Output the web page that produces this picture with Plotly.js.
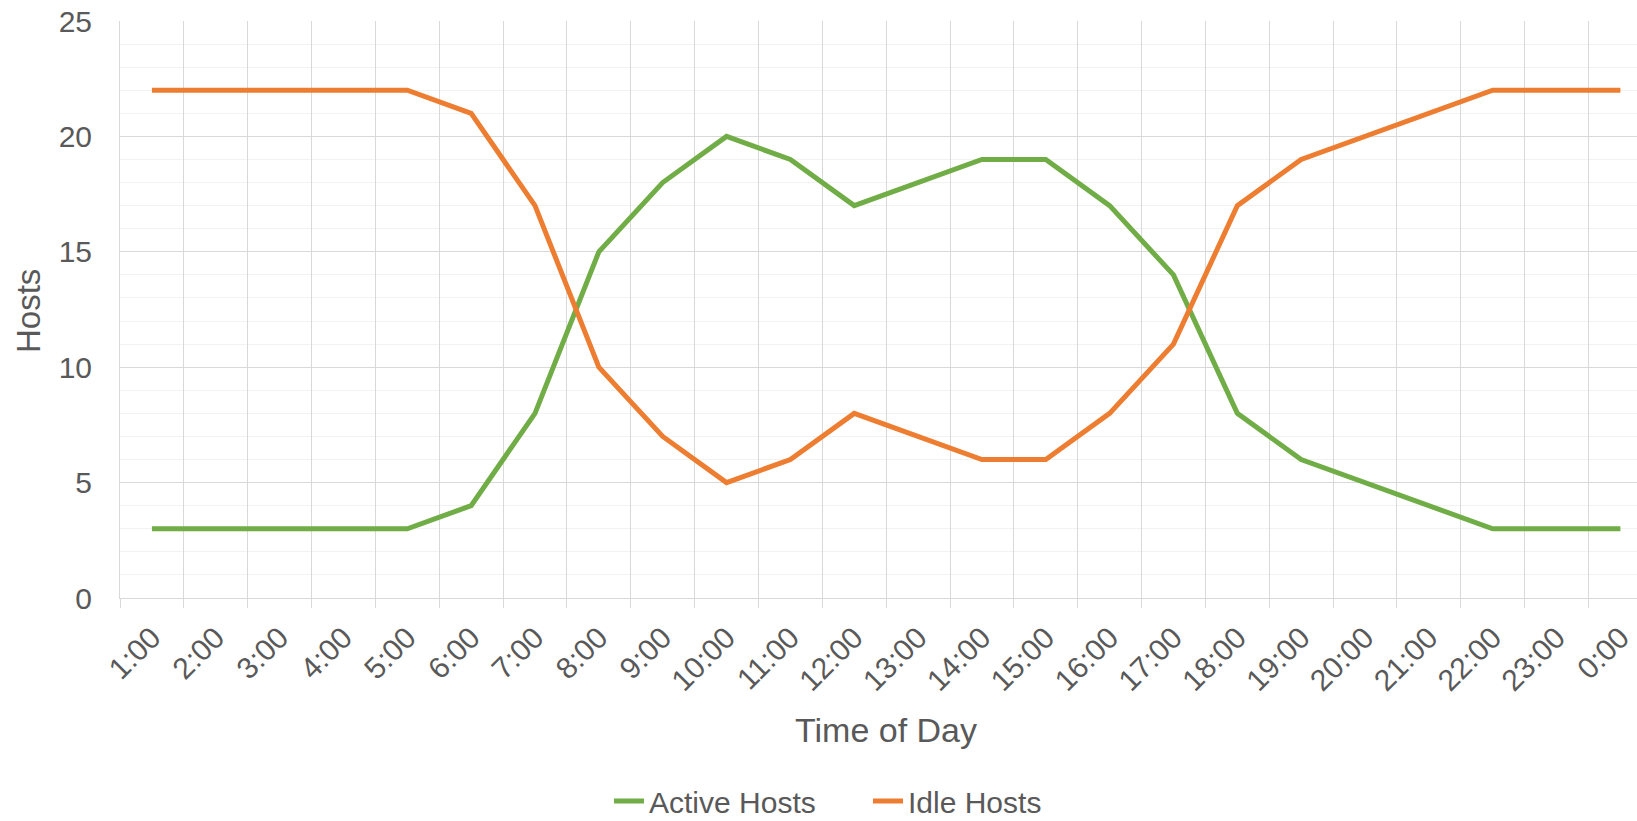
<!DOCTYPE html>
<html>
<head>
<meta charset="utf-8">
<script src="https://cdn.plot.ly/plotly-3.0.1.min.js"></script>
<style>html,body{margin:0;padding:0;background:#fff;}#chart{width:1637px;height:821px;}</style>
</head>
<body>
<div id="chart"></div>
<script>
const hours = ["1:00","2:00","3:00","4:00","5:00","6:00","7:00","8:00","9:00","10:00","11:00","12:00","13:00","14:00","15:00","16:00","17:00","18:00","19:00","20:00","21:00","22:00","23:00","0:00"];
const activeHosts = [3,3,3,3,3,4,8,15,18,20,19,17,18,19,19,17,14,8,6,5,4,3,3,3];
const idleHosts = [22,22,22,22,22,21,17,10,7,5,6,8,7,6,6,8,11,17,19,20,21,22,22,22];
const seriesNames = ["Active Hosts","Idle Hosts"];
const xTitle = "Time of Day";
const yTitle = "Hosts";

const FONT = "Liberation Sans, Arial, sans-serif";
const TXT = "#595959";

const traces = [
  {x: hours, y: activeHosts, name: seriesNames[0], type: "scatter", mode: "lines",
   line: {color: "#70AD47", width: 5}},
  {x: hours, y: idleHosts, name: seriesNames[1], type: "scatter", mode: "lines",
   line: {color: "#ED7D31", width: 5}}
];

const layout = {
  width: 1637, height: 821,
  margin: {l: 120, r: 0, t: 21, b: 223, autoexpand: false},
  paper_bgcolor: "#fff", plot_bgcolor: "#fff",
  font: {family: FONT, color: TXT, size: 30},
  showlegend: true,
  legend: {orientation: "h", xref: "container", yref: "container",
           x: 609 / 1637, xanchor: "left", y: (821 - 801) / 821, yanchor: "middle",
           entrywidth: 214, entrywidthmode: "pixels",
           font: {family: FONT, color: TXT, size: 30}, traceorder: "normal"},
  xaxis: {
    type: "category",
    range: [-0.5, 23.26],
    tickson: "boundaries",
    showgrid: true, gridcolor: "#d9d9d9", gridwidth: 1,
    ticks: "outside", ticklen: 9, tickcolor: "#d9d9d9", tickwidth: 1,
    tickangle: -45, ticklabelstandoff: 9,
    tickfont: {family: FONT, color: TXT, size: 30},
    showline: true, linecolor: "#d9d9d9", linewidth: 1,
    zeroline: false, fixedrange: true, automargin: false
  },
  yaxis: {
    range: [0, 25], dtick: 5, tick0: 0,
    showgrid: true, gridcolor: "#d9d9d9", gridwidth: 1,
    minor: {dtick: 1, showgrid: true, gridcolor: "#f2f2f2", gridwidth: 1},
    ticks: "", ticklabelstandoff: 21,
    tickfont: {family: FONT, color: TXT, size: 30},
    showline: true, linecolor: "#d9d9d9", linewidth: 1,
    zeroline: false, fixedrange: true, automargin: false
  },
  annotations: [
    {text: xTitle, xref: "paper", yref: "paper", x: (886 - 120) / 1517, y: (598 - 730) / 577,
     xanchor: "center", yanchor: "middle", showarrow: false,
     font: {family: FONT, color: TXT, size: 34}},
    {text: yTitle, xref: "paper", yref: "paper", x: (28 - 120) / 1517, y: (598 - 311) / 577,
     xanchor: "center", yanchor: "middle", textangle: -90, showarrow: false,
     font: {family: FONT, color: TXT, size: 33}}
  ]
};

Plotly.newPlot("chart", traces, layout, {displayModeBar: false, staticPlot: true});
</script>
</body>
</html>
